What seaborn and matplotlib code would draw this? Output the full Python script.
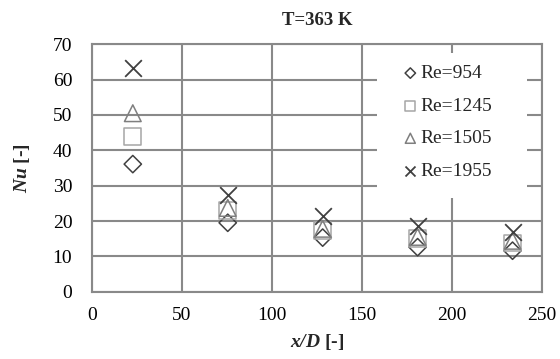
import matplotlib
matplotlib.use("Agg")
import matplotlib.pyplot as plt
from matplotlib.patches import Rectangle
import seaborn as sns
import pandas as pd

x_d = [22.8, 75.5, 128.2, 180.9, 233.6]
nu_954 = [36.1, 19.5, 15.3, 12.6, 11.6]
nu_1245 = [43.9, 23.0, 17.3, 15.0, 13.8]
nu_1505 = [50.5, 23.7, 17.8, 15.5, 14.4]
nu_1955 = [63.2, 27.4, 21.4, 18.6, 16.8]
labels = ["Re=954", "Re=1245", "Re=1505", "Re=1955"]
x_ticks = [0, 50, 100, 150, 200, 250]
y_ticks = [0, 10, 20, 30, 40, 50, 60, 70]

sns.set_theme(style="white")
plt.rcParams["font.family"] = ["Liberation Serif", "DejaVu Serif"]
plt.rcParams["mathtext.fontset"] = "custom"
plt.rcParams["mathtext.bfit"] = "Liberation Serif:italic:bold"
plt.rcParams["mathtext.it"] = "Liberation Serif:italic"
plt.rcParams["mathtext.rm"] = "Liberation Serif"

fig = plt.figure(figsize=(5.6, 3.59), dpi=100)
ax = fig.add_axes([0.1638, 0.1875, 0.8042, 0.6891])

series = [nu_954, nu_1245, nu_1505, nu_1955]
markers = ["D", "s", "^", "x"]
colors = ["#404040", "#a6a6a6", "#7f7f7f", "#404040"]
sizes = [78, 144, 144, 144]

for vals, lab, m, c, s in zip(series, labels, markers, colors, sizes):
    df = pd.DataFrame({"x": x_d, "y": vals})
    if m == "x":
        sns.scatterplot(data=df, x="x", y="y", marker=m, s=s, color=c,
                        linewidth=1.3, ax=ax, label=lab, zorder=3)
    else:
        sns.scatterplot(data=df, x="x", y="y", marker=m, s=s,
                        facecolor="none", edgecolor=c, linewidth=1.1,
                        ax=ax, label=lab, zorder=3)

ax.set_xlim(0, 250)
ax.set_ylim(0, 70)
ax.set_xticks(x_ticks)
ax.set_yticks(y_ticks)
ax.tick_params(axis="x", length=0, labelsize=14, colors="black", pad=11)
ax.tick_params(axis="y", length=0, labelsize=14, colors="black", pad=14)
ax.grid(True, color="#898989", linewidth=1.5)
ax.set_axisbelow(True)
for sp in ax.spines.values():
    sp.set_color("#898989")
    sp.set_linewidth(1.5)

# white legend background area
ax.add_patch(Rectangle((0.634, 0.379), 0.333, 0.586, transform=ax.transAxes,
                       facecolor="white", edgecolor="none", zorder=1))

ax.set_title("T=363 K", fontsize=13.5, fontweight="bold", pad=14)
ax.set_xlabel(r"$\mathbfit{x/D}$ [-]", fontsize=14, fontweight="bold", labelpad=6)
ax.set_ylabel(r"$\mathbfit{Nu}$ [-]", fontsize=14, fontweight="bold", labelpad=15)

leg = ax.legend(loc="upper left", bbox_to_anchor=(0.688, 0.918), frameon=False,
                fontsize=14, labelspacing=0.77, handletextpad=0.05,
                handlelength=0.9, markerscale=0.6, borderpad=0, borderaxespad=0)

fig.savefig("out.png", dpi=100)
